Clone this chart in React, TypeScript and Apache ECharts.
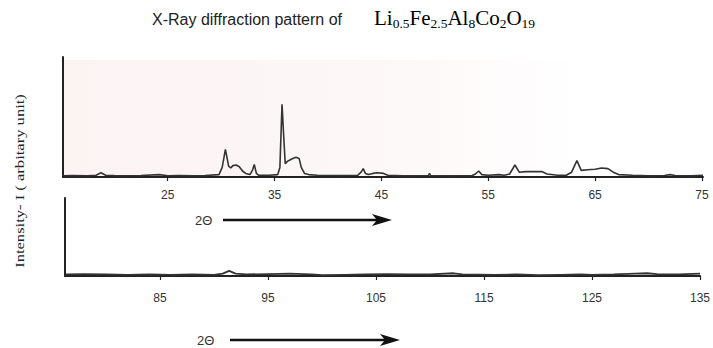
import React, { useEffect, useRef } from "react";
import * as echarts from "echarts";

// Top panel (2θ 15–75)
const topTheta = [15.2, 16.0, 17.5, 18.3, 18.75, 19.2, 20.0, 21.0, 22.5, 24.2, 25.0, 26.0, 27.5, 28.5, 29.8, 30.1, 30.4, 30.7, 30.9, 31.1, 31.4, 31.7, 32.0, 32.3, 32.7, 32.95, 33.1, 33.3, 33.5, 34.5, 35.3, 35.5, 35.7, 35.85, 36.0, 36.2, 36.6, 37.0, 37.3, 37.5, 37.8, 38.2, 39.0, 40.5, 41.5, 42.8, 43.1, 43.3, 43.5, 43.8, 44.2, 44.6, 45.2, 45.6, 47.0, 48.0, 49.4, 49.5, 49.6, 51.5, 53.5, 53.8, 54.1, 54.4, 55.0, 56.0, 56.5, 57.0, 57.5, 57.9, 58.5, 60.0, 60.5, 61.5, 62.3, 62.8, 63.3, 63.7, 64.3, 65.0, 65.6, 66.2, 66.7, 67.2, 68.5, 70.0, 71.5, 72.0, 72.5, 74.0, 75.1];
const topIntensity = [1, 1.2, 1.0, 1.5, 3.5, 1.5, 1.2, 1, 1.2, 2, 1, 1.3, 1, 1.2, 2, 8, 23, 9, 7.5, 9.5, 10, 8.5, 5, 3, 2, 6, 10.5, 3, 1.5, 1.5, 2, 8, 60.5, 35, 11, 13, 15, 16.4, 15.5, 8, 3, 2, 1.5, 1.2, 1.3, 1.5, 4, 7, 3, 2, 3, 3.5, 3, 1.5, 1, 1, 1.2, 3, 1.2, 1, 1.2, 2.5, 5, 2, 1.5, 2, 1.5, 2.5, 10, 4, 4.5, 4.5, 2.5, 1.5, 1.5, 4, 13.6, 5.5, 6, 6.5, 7.5, 7, 4, 2, 1.5, 1, 1.2, 2, 1.2, 1, 1.5];

// Bottom panel (2θ 76–135)
const bottomTheta = [76.2, 78, 80, 82, 84, 86, 88, 90, 90.8, 91.4, 92.0, 93, 95, 97, 99, 100, 102, 104, 106, 108, 110, 112.2, 113, 116, 118, 120, 122, 124, 125, 127, 129, 130.1, 131, 133, 135];
const bottomIntensity = [2, 2.5, 2, 1.5, 2, 1.5, 2, 1.5, 3, 6.5, 3, 2, 2.5, 3, 2, 1, 1.5, 2, 2.5, 2, 2, 3.5, 2, 1.5, 2, 1, 1.5, 2, 1.5, 2, 3, 3.5, 2.5, 2, 3];

const topTicks = [25, 35, 45, 55, 65, 75];
const bottomTicks = [85, 95, 105, 115, 125, 135];

const titleText = "X-Ray diffraction pattern of";
const yLabel = "Intensity- I ( arbitary unit)";
const thetaLabel = "2\u0398";

export default function App() {
  const ref = useRef<HTMLDivElement>(null);
  useEffect(() => {
    if (!ref.current) return;
    const chart = echarts.init(ref.current, null, { renderer: "svg" });
    const axisColor = "#222";
    const labelStyle = { color: "#333", fontSize: 12, fontFamily: "Liberation Sans" };
    const xAxisCommon = (min: number, max: number, ticks: number[], margin: number, gridIndex: number) => ({
      type: "value",
      gridIndex,
      min,
      max,
      splitLine: { show: false },
      axisLine: { show: true, lineStyle: { color: axisColor, width: 2 } },
      axisTick: { show: true, length: 4, customValues: ticks, lineStyle: { color: axisColor, width: 1.2 } },
      axisLabel: { show: true, customValues: ticks, margin, ...labelStyle },
    });
    const yAxisCommon = (gridIndex: number) => ({
      type: "value",
      gridIndex,
      min: 0,
      max: 100,
      splitLine: { show: false },
      axisLine: { show: true, lineStyle: { color: axisColor, width: 2 } },
      axisTick: { show: false },
      axisLabel: { show: false },
    });
    const arrow = (x0: number, x1: number, y: number) => [
      { type: "line", shape: { x1: x0, y1: y, x2: x1 - 8, y2: y }, style: { stroke: "#111", lineWidth: 2.5 } },
      {
        type: "polygon",
        shape: { points: [[x1 - 20, y - 6], [x1, y], [x1 - 20, y + 6], [x1 - 15, y]] },
        style: { fill: "#111" },
      },
    ];
    chart.setOption({
      animation: false,
      backgroundColor: "#ffffff",
      grid: [
        { left: 63, top: 57, width: 640, height: 120 },
        { left: 65, top: 198, width: 638, height: 78 },
      ],
      xAxis: [
        xAxisCommon(15.2, 75.1, topTicks, 12, 0),
        xAxisCommon(76.2, 135, bottomTicks, 16, 1),
      ],
      yAxis: [yAxisCommon(0), yAxisCommon(1)],
      series: [
        {
          type: "line",
          xAxisIndex: 0,
          yAxisIndex: 0,
          data: topTheta.map((t, i) => [t, topIntensity[i]]),
          showSymbol: false,
          lineStyle: { color: "#333", width: 1.6 },
        },
        {
          type: "line",
          xAxisIndex: 1,
          yAxisIndex: 1,
          data: bottomTheta.map((t, i) => [t, bottomIntensity[i]]),
          showSymbol: false,
          lineStyle: { color: "#333", width: 1.8 },
        },
      ],
      graphic: [
        {
          type: "rect",
          z: -10,
          shape: { x: 64, y: 60, width: 520, height: 116 },
          style: {
            fill: new echarts.graphic.LinearGradient(0, 0, 1, 0, [
              { offset: 0, color: "#fcf3f3" },
              { offset: 0.6, color: "#fdf7f7" },
              { offset: 1, color: "#ffffff" },
            ]),
          },
          silent: true,
        },
        {
          type: "text",
          x: 152,
          y: 19,
          style: {
            text: titleText,
            fontFamily: "Liberation Sans",
            fontSize: 16,
            fill: "#222",
            verticalAlign: "middle",
          },
        },
        {
          type: "text",
          x: 374,
          y: 18,
          style: {
            text: "{b|Li}{s|0.5}{b|Fe}{s|2.5}{b|Al}{s|8}{b|Co}{s|2}{b|O}{s|19}",
            verticalAlign: "middle",
            rich: {
              b: { fontFamily: "Liberation Serif", fontSize: 21, color: "#222", lineHeight: 24 },
              s: { fontFamily: "Liberation Serif", fontSize: 13.5, color: "#222", lineHeight: 14, verticalAlign: "bottom" },
            },
          },
        },
        {
          type: "text",
          x: 20,
          y: 181,
          rotation: Math.PI / 2,
          scaleX: 1.38,
          style: {
            text: yLabel,
            fontFamily: "Liberation Serif",
            fontSize: 12,
            fill: "#222",
            align: "center",
            verticalAlign: "middle",
          },
        },
        {
          type: "text",
          x: 195,
          y: 220,
          style: { text: thetaLabel, fontFamily: "Liberation Sans", fontSize: 13, fill: "#333", verticalAlign: "middle" },
        },
        ...arrow(223, 392, 220),
        {
          type: "text",
          x: 197,
          y: 340,
          style: { text: thetaLabel, fontFamily: "Liberation Sans", fontSize: 13, fill: "#333", verticalAlign: "middle" },
        },
        ...arrow(230, 400, 340),
      ],
    });
    return () => chart.dispose();
  }, []);
  return <div ref={ref} style={{ position: "fixed", left: 0, top: 0, width: 713, height: 348 }} />;
}
